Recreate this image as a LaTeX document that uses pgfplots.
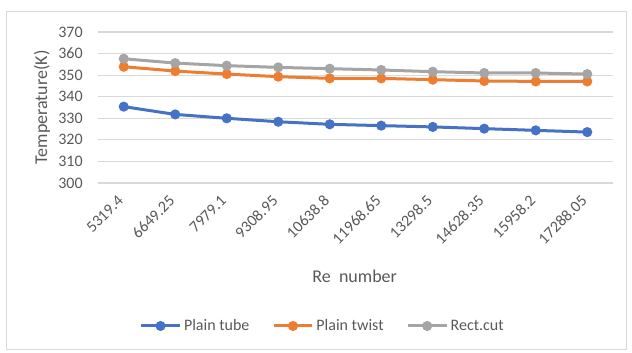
\documentclass[border=0pt]{standalone}
\usepackage{pgfplots}
\pgfplotsset{compat=1.18}
\usepackage{fontspec}
\setmainfont{Carlito}
\definecolor{xblue}{HTML}{4472C4}
\definecolor{xorange}{HTML}{ED7D31}
\definecolor{xgray}{HTML}{A5A5A5}
\definecolor{xtext}{HTML}{595959}
\definecolor{xgrid}{HTML}{D9D9D9}
\begin{document}
\begin{tikzpicture}
\path[use as bounding box] (-73.5pt,-127.5pt) rectangle (400.5pt,137.25pt);
\draw[xgrid, line width=0.75pt] (-68.25pt,-125.25pt) rectangle (396pt,128.25pt);
\begin{axis}[
  at={(0pt,0pt)}, anchor=south west,
  scale only axis,
  width=386.25pt, height=113.25pt,
  xmin=-0.5, xmax=9.5,
  ymin=300, ymax=370,
  ytick={300,310,...,370},
  xtick={0,...,9},
  xticklabels={5319.4,6649.25,7979.1,9308.95,10638.8,11968.65,13298.5,14628.35,15958.2,17288.05},
  axis line style={draw=none},
  major tick style={draw=none},
  ymajorgrids,
  grid style={xgrid, line width=0.9pt},
  tick label style={font=\fontsize{12}{14}\selectfont, text=xtext},
  /pgf/number format/assume math mode=true,
  yticklabel style={xshift=-8pt},
  xticklabel style={rotate=45, anchor=east},
  xticklabel shift=9pt,
  ylabel={Temperature(K)},
  xlabel={Re\ \ number},
  every axis y label/.style={at={(axis description cs:-0.1087,0.5)}, rotate=90, anchor=center, font=\fontsize{13.5}{16}\selectfont, text=xtext},
  every axis x label/.style={at={(axis description cs:0.4985,-0.616)}, anchor=center, font=\fontsize{13.5}{16}\selectfont, text=xtext},
  legend columns=3,
  legend style={draw=none, fill=none, at={(axis description cs:0.437,-0.947)}, anchor=center,
    font=\fontsize{12}{14}\selectfont, text=xtext,
    /tikz/every even column/.append style={column sep=15pt},
    inner sep=0pt, outer sep=0pt},
  legend cell align=left,
  legend image code/.code={\draw[#1, mark repeat=2, mark phase=2] plot coordinates {(0pt,0pt) (14.5pt,0pt) (29pt,0pt)};},
  every axis plot/.append style={line width=2.25pt, mark=*, mark size=2.6pt},
]
\addplot[xblue, mark options={fill=xblue, draw=xblue}] coordinates {
(0,335.4) (1,331.8) (2,330.0) (3,328.4) (4,327.2) (5,326.6) (6,326.0) (7,325.2) (8,324.4) (9,323.6)};
\addlegendentry{Plain tube}
\addplot[xorange, mark options={fill=xorange, draw=xorange}] coordinates {
(0,353.9) (1,351.9) (2,350.5) (3,349.3) (4,348.5) (5,348.5) (6,347.9) (7,347.3) (8,347.1) (9,347.1)};
\addlegendentry{Plain twist}
\addplot[xgray, mark options={fill=xgray, draw=xgray}] coordinates {
(0,357.6) (1,355.6) (2,354.4) (3,353.6) (4,353.0) (5,352.4) (6,351.6) (7,351.0) (8,351.0) (9,350.5)};
\addlegendentry{Rect.cut}
\end{axis}
\end{tikzpicture}
\end{document}
